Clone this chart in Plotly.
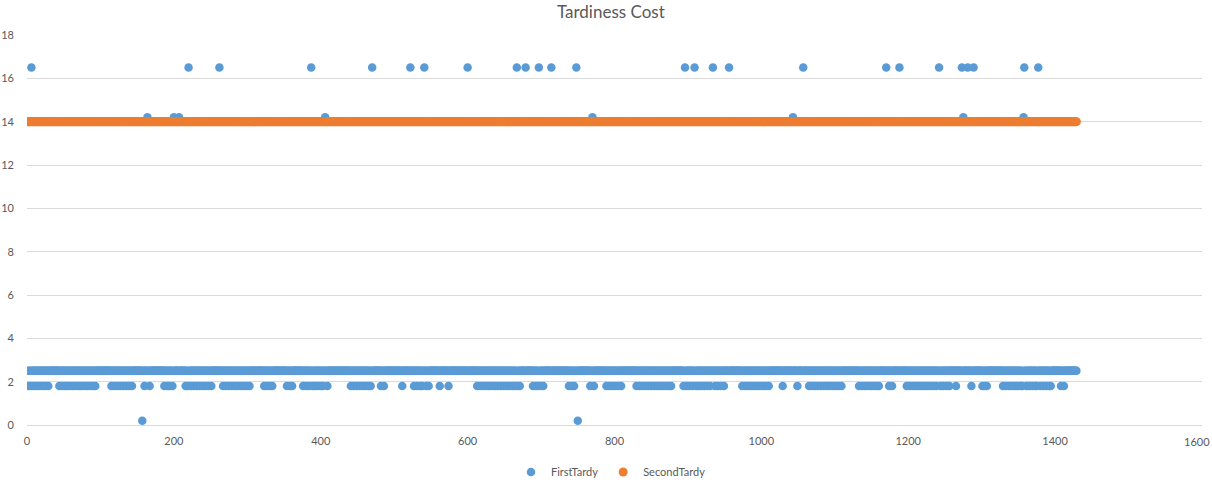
import plotly.graph_objects as go

# ---- data -------------------------------------------------------------
N_JOBS = 1429                      # jobs are numbered 1..N_JOBS
job_ids = list(range(1, N_JOBS + 1))

first_default = 2.5                # most FirstTardy values
first_high_value = 16.5
first_high_jobs = [6, 220, 262, 387, 470, 522, 541, 600, 667, 679, 697, 714,
                   748, 896, 909, 934, 956, 1057, 1170, 1188, 1242, 1273,
                   1281, 1289, 1358, 1377]
first_mid_value = 14.2
first_mid_jobs = [164, 200, 207, 406, 770, 1043, 1275, 1357]
first_low_value = 0.2
first_low_jobs = [157, 750]
first_short_value = 1.8
first_short_jobs = [
    2, 5, 9, 13, 17, 21, 25, 29,
    44, 48, 52, 55, 59, 63, 67, 71, 74, 78, 82, 86, 90, 93,
    115, 119, 123, 127, 131, 135, 139, 143,
    160, 167,
    187, 191, 194, 198,
    216, 219, 223, 227, 231, 235, 239, 243, 247, 251,
    267, 271, 275, 279, 283, 287, 291, 295, 299, 303,
    323, 327, 331, 334,
    354, 358, 361,
    376, 380, 384, 389, 392, 396, 400, 403, 409,
    441, 445, 449, 453, 457, 461, 465, 468,
    482, 486,
    511,
    527, 531, 535, 538, 544, 547,
    562, 574,
    613, 617, 621, 625, 629, 633, 637, 641, 645, 649, 653, 657, 661, 664, 668, 671,
    689, 693, 696, 700, 703,
    738, 742, 745,
    767, 772,
    789, 793, 797, 801, 805, 809,
    830, 834, 838, 842, 846, 850, 854, 858, 862, 866, 870, 874, 877,
    894, 898, 902, 906, 911, 914, 918, 922, 926, 930, 937, 941, 945, 949,
    974, 978, 982, 986, 990, 994, 998, 1002, 1006, 1010,
    1029, 1049,
    1065, 1069, 1073, 1077, 1081, 1085, 1089, 1093, 1097, 1101, 1105, 1109,
    1133, 1137, 1141, 1145, 1149, 1153, 1157, 1160,
    1174, 1178,
    1198, 1202, 1206, 1210, 1214, 1218, 1222, 1226, 1230, 1234, 1238, 1244,
    1248, 1252, 1256,
    1265, 1286,
    1301, 1304, 1307,
    1329, 1333, 1337, 1341, 1345, 1349, 1353, 1355, 1361, 1365, 1369, 1373,
    1375, 1380, 1384, 1388, 1392, 1394,
    1408, 1412,
]
second_value = 14.0                # SecondTardy is 14 for every job

x_ticks = [0, 200, 400, 600, 800, 1000, 1200, 1400, 1600]
y_ticks = [0, 2, 4, 6, 8, 10, 12, 14, 16, 18]

# ---- build series -------------------------------------------------------
first_map = {j: first_default for j in job_ids}
for j in first_short_jobs:
    first_map[j] = first_short_value
for j in first_high_jobs:
    first_map[j] = first_high_value
for j in first_mid_jobs:
    first_map[j] = first_mid_value
for j in first_low_jobs:
    first_map[j] = first_low_value
first_tardy = [first_map[j] for j in job_ids]
second_tardy = [second_value for _ in job_ids]

BLUE = "#5B9BD5"
ORANGE = "#ED7D31"
GRID = "#D9D9D9"
TXT = "#595959"
FONT = "Lato"

fig = go.Figure()
fig.add_trace(go.Scatter(x=job_ids, y=first_tardy, mode="markers", name="FirstTardy",
                         marker=dict(color=BLUE, size=8.5, line=dict(width=0))))
fig.add_trace(go.Scatter(x=job_ids, y=second_tardy, mode="markers", name="SecondTardy",
                         marker=dict(color=ORANGE, size=9, line=dict(width=0))))

# last x tick label sits at the very right edge of the chart: keep it inside the figure
last_tick = x_ticks[-1]
x_ticktext = [str(v) for v in x_ticks[:-1]] + [""]

fig.update_layout(
    width=1212, height=490,
    margin=dict(l=27, r=10, t=35, b=65, autoexpand=False),
    paper_bgcolor="white", plot_bgcolor="white",
    font=dict(family=FONT, color=TXT, size=11),
    title=dict(text="Tardiness Cost", x=0.504, xanchor="center",
               yref="container", y=1 - 12 / 490, yanchor="middle",
               font=dict(family=FONT, size=17, color=TXT)),
    legend=dict(orientation="h", x=0.497, xanchor="center",
                yref="container", y=1 - 472 / 490, yanchor="middle",
                font=dict(family=FONT, size=11, color=TXT)),
    showlegend=True,
    annotations=[dict(text=str(last_tick), xref="paper", x=1 + 10 / 1175, xanchor="right",
                      yref="paper", y=-16 / 390, yanchor="middle", showarrow=False,
                      font=dict(family=FONT, size=11, color=TXT))],
)
fig.update_xaxes(range=[0, 1600], tickvals=x_ticks, ticktext=x_ticktext,
                 showgrid=False, zeroline=False, showline=True, linecolor=GRID, linewidth=1,
                 ticks="", ticklabelstandoff=6, automargin=False,
                 tickfont=dict(size=11, color=TXT))
fig.update_yaxes(range=[0, 18], tickvals=y_ticks, ticktext=[str(v) for v in y_ticks],
                 showgrid=True, gridcolor=GRID, gridwidth=1, zeroline=False, showline=False,
                 ticks="", ticklabelstandoff=12, automargin=False,
                 tickfont=dict(size=11, color=TXT))

fig.write_html("out.html")
